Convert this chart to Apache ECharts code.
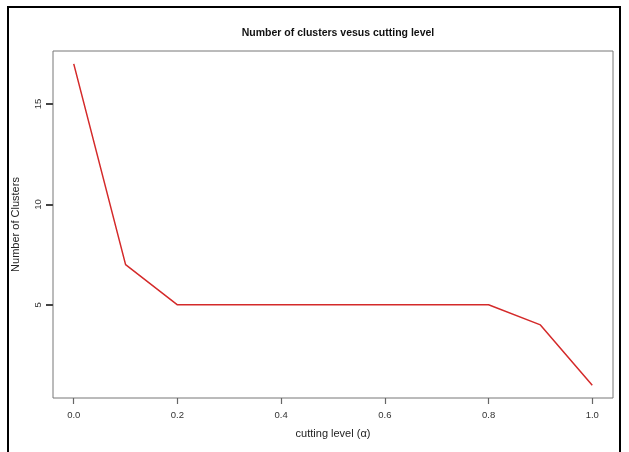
<!DOCTYPE html>
<html>
<head>
<meta charset="utf-8">
<script src="https://cdn.jsdelivr.net/npm/echarts@6/dist/echarts.min.js"></script>
<style>
html, body { margin: 0; padding: 0; background: #fff; }
#chart { width: 629px; height: 452px; }
</style>
</head>
<body>
<div id="chart"></div>
<script>
// cutting level and number of clusters
const cuttingLevel = [0.0, 0.1, 0.2, 0.3, 0.4, 0.5, 0.6, 0.7, 0.8, 0.9, 1.0];
const numClusters = [17, 7, 5, 5, 5, 5, 5, 5, 5, 4, 1];
const xTicks = [0.0, 0.2, 0.4, 0.6, 0.8, 1.0];
const yTicks = [5, 10, 15];

const chart = echarts.init(document.getElementById('chart'));
const font = 'Liberation Sans, Arial, Helvetica, sans-serif';

chart.setOption({
    animation: false,
    backgroundColor: '#fff',
    title: {
        text: 'Number of clusters vesus cutting level',
        left: 333,
        top: 23,
        textAlign: 'center',
        textStyle: { fontFamily: font, fontSize: 10.5, fontWeight: 'bold', color: '#111' }
    },
    grid: {
        left: 53, right: 16, top: 51, bottom: 54,
        show: true, borderColor: '#777', borderWidth: 1
    },
    xAxis: {
        type: 'value',
        min: -0.04,
        max: 1.04,
        name: 'cutting level (\u03b1)',
        nameLocation: 'middle',
        nameGap: 30,
        nameTextStyle: { fontFamily: font, fontSize: 11, color: '#222' },
        axisLine: { show: false, onZero: false },
        splitLine: { show: false },
        axisTick: { show: true, length: 6, customValues: xTicks, lineStyle: { color: '#666', width: 1.2 } },
        axisLabel: {
            customValues: xTicks,
            margin: 12,
            fontFamily: font, fontSize: 9.5, color: '#333',
            formatter: v => v.toFixed(1)
        }
    },
    yAxis: {
        type: 'value',
        position: 'left',
        min: 0.36,
        max: 17.64,
        name: 'Number of Clusters',
        nameLocation: 'middle',
        nameGap: 32,
        nameTextStyle: { fontFamily: font, fontSize: 11, color: '#222' },
        axisLine: { show: false, onZero: false },
        splitLine: { show: false },
        axisTick: { show: true, length: 7, customValues: yTicks, lineStyle: { color: '#444', width: 2 } },
        axisLabel: {
            customValues: yTicks,
            rotate: 90,
            margin: 10,
            fontFamily: font, fontSize: 9.5, color: '#333'
        }
    },
    series: [{
        type: 'line',
        data: cuttingLevel.map((x, i) => [x, numClusters[i]]),
        showSymbol: false,
        lineStyle: { color: '#d42a2a', width: 1.5 }
    }],
    graphic: [{
        type: 'rect',
        shape: { x: 8, y: 7, width: 612, height: 460 },
        style: { fill: 'none', stroke: '#000', lineWidth: 2 },
        silent: true
    }]
});
</script>
</body>
</html>
